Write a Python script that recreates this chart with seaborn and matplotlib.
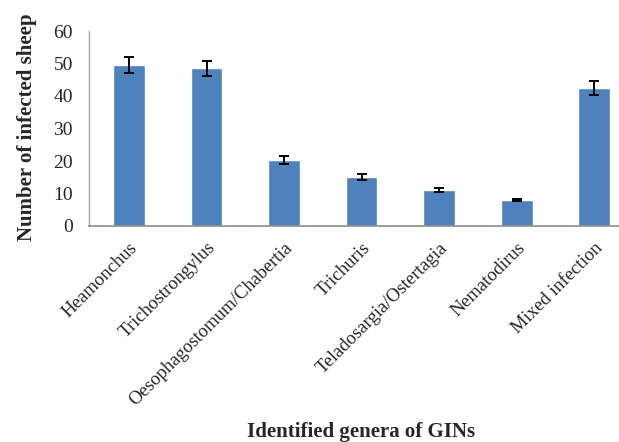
import matplotlib
matplotlib.use("Agg")
import matplotlib.pyplot as plt
import seaborn as sns
import pandas as pd

genera = ["Heamonchus", "Trichostrongylus", "Oesophagostomum/Chabertia", "Trichuris",
          "Teladosargia/Ostertagia", "Nematodirus", "Mixed infection"]
infected = [49.5, 48.5, 20.3, 15.1, 11.1, 8.0, 42.4]
errors = [2.5, 2.4, 1.1, 0.85, 0.65, 0.45, 2.15]
yticks = [0, 10, 20, 30, 40, 50, 60]

sns.set_theme(style="white")
plt.rcParams["font.family"] = ["Liberation Serif", "DejaVu Serif"]

df = pd.DataFrame({"genus": genera, "n": infected})

fig = plt.figure(figsize=(6.19, 4.42), dpi=100)
ax = fig.add_axes([89 / 619, (442 - 226) / 442, (619 - 89) / 619, (226 - 31) / 442])

sns.barplot(data=df, x="genus", y="n", color="#4F81BD", saturation=1, width=0.41,
            errorbar=None, ax=ax)
ax.errorbar(x=list(range(len(genera))), y=infected, yerr=errors, fmt="none",
            ecolor="black", elinewidth=1.4, capsize=3.3, capthick=1.4, zorder=5)

ax.set_ylim(0, 60)
ax.set_yticks(yticks)
ax.set_yticklabels([str(t) for t in yticks], fontsize=14)
ax.set_xlim(-0.516, 6.32)
ax.set_xticks(range(len(genera)))
ax.set_xticklabels(genera, rotation=45, ha="right", va="top",
                   rotation_mode="anchor", fontsize=13.5)
ax.tick_params(axis="both", length=0)
ax.tick_params(axis="y", pad=11.5)
ax.tick_params(axis="x", pad=9.5)

ax.set_xlabel("")
ax.set_ylabel("")
for s in ["top", "right"]:
    ax.spines[s].set_visible(False)
ax.spines["left"].set_color("#A6A6A6")
ax.spines["bottom"].set_color("#8C8C8C")
ax.spines["left"].set_linewidth(1.0)
ax.spines["bottom"].set_linewidth(1.2)

fig.text(27 / 619, 1 - 127 / 442, "Number of infected sheep", rotation=90,
         ha="center", va="center", fontsize=15, fontweight="bold")
fig.text(361 / 619, 1 - 432 / 442, "Identified genera of GINs", ha="center", va="center",
         fontsize=15, fontweight="bold")

fig.savefig("out.png", dpi=100)
